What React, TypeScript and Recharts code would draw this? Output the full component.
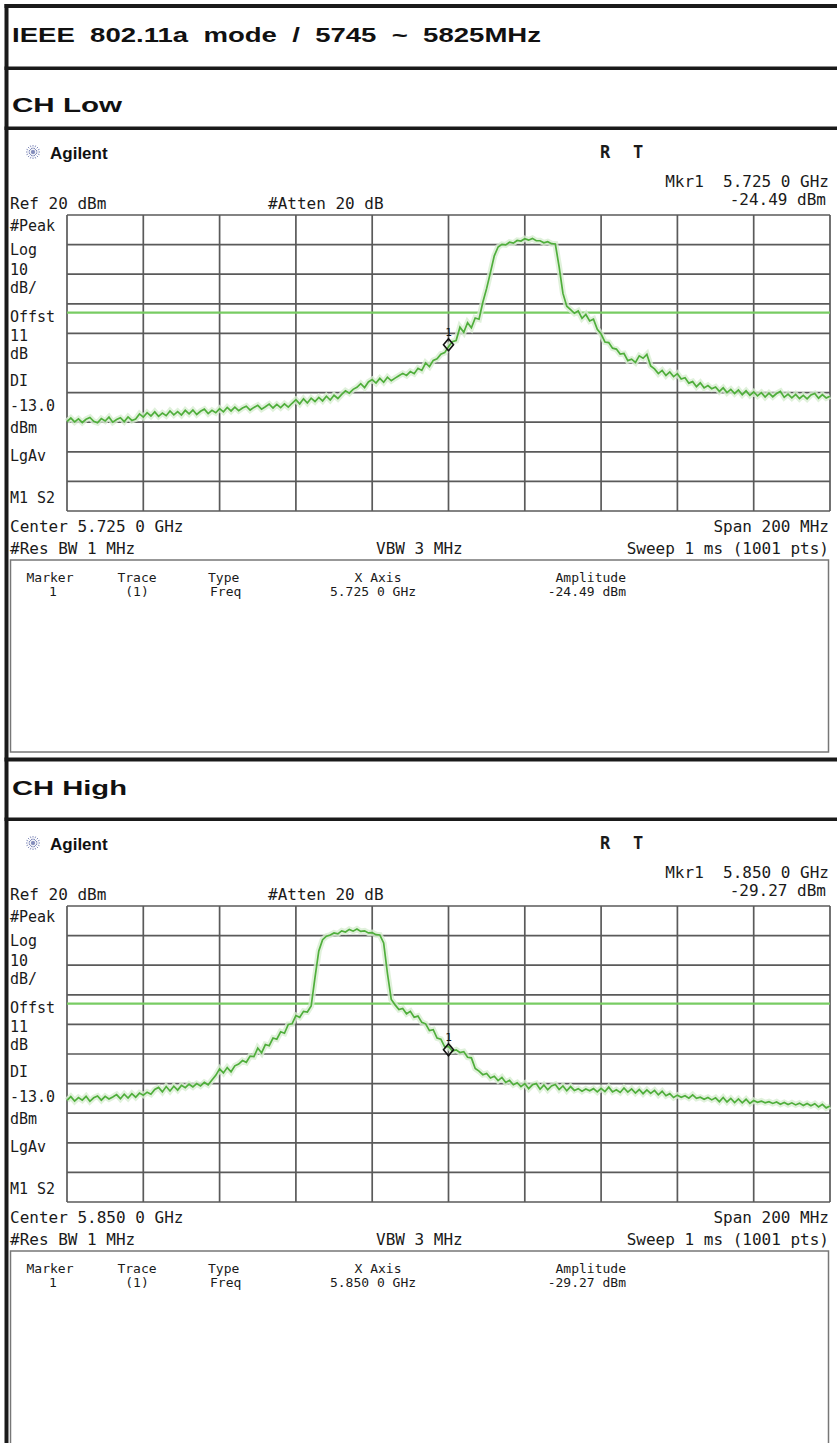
import React from 'react';
import {
  LineChart,
  Line,
  XAxis,
  YAxis,
  CartesianGrid,
  ReferenceLine,
  ReferenceDot,
} from 'recharts';

// analyzer settings
const SPAN_MHZ = 200;
const STEP_MHZ = 1;
const REF_LEVEL = 20;
const DB_PER_DIV = 10;
const DISPLAY_LINE_DBM = -13;
const Y_TICKS = [-80, -70, -60, -50, -40, -30, -20, -10, 0, 10, 20];

const PAGE_TITLE = 'IEEE  802.11a  mode  /  5745  ~  5825MHz';

// CH Low: 5.625 - 5.825 GHz, 1 MHz per point
const LOW_CENTER_MHZ = 5725;
const LOW_MARKER = { freq: 5725, amp: -24.49, freqText: '5.725 0 GHz', ampText: '-24.49 dBm' };
const LOW_TRACE = [
  -49.8, -48.6, -49.9, -48.9, -50.1, -49.0, -48.4, -49.7, -50.2, -48.8,
  -49.6, -48.3, -50.0, -49.1, -48.5, -49.8, -48.2, -49.4, -48.9, -47.2,
  -48.3, -46.8, -47.9, -46.5, -48.0, -46.9, -47.8, -46.2, -47.5, -46.4,
  -47.6, -46.0, -47.2, -45.9, -47.4, -46.3, -45.6, -47.1, -46.0, -46.8,
  -45.4, -46.5, -45.0, -46.2, -44.9, -46.1, -45.2, -44.6, -45.9, -45.0,
  -44.3, -45.6, -44.8, -43.9, -45.2, -44.0, -45.1, -43.8, -44.9, -43.6,
  -42.4, -43.8, -42.1, -43.5, -41.9, -43.0, -41.6, -42.8, -41.2, -42.5,
  -40.9, -42.0, -40.6, -39.4, -40.2, -38.9, -38.2, -37.0, -38.3, -36.4,
  -35.6, -36.8, -35.2, -36.5, -34.8, -36.0, -35.1, -34.3, -33.5, -34.2,
  -32.9, -33.6, -31.8, -32.5, -30.0, -31.2, -29.1, -28.6, -27.0, -26.5,
  -24.5, -22.8, -22.4, -17.9, -19.6, -16.4, -18.1, -14.8, -15.2, -9.5,
  -4.8, 0.6, 6.2, 9.2, 10.1, 9.9, 10.8, 10.5, 11.4, 11.2,
  12.0, 11.5, 12.1, 11.3, 11.3, 10.6, 11.0, 10.3, 10.2, 2.5,
  -6.5, -10.8, -12.0, -13.2, -12.4, -14.9, -13.6, -15.8, -15.2, -18.6,
  -20.2, -22.9, -23.1, -25.0, -25.3, -27.0, -26.8, -29.2, -28.7, -29.8,
  -27.6, -28.4, -27.1, -31.0, -32.0, -33.6, -32.5, -34.2, -33.0, -34.6,
  -33.6, -35.4, -35.0, -36.8, -36.3, -38.0, -36.7, -38.4, -37.6, -38.7,
  -38.1, -39.6, -38.4, -40.0, -38.9, -40.3, -39.1, -40.7, -39.4, -40.9,
  -39.8, -41.1, -40.0, -41.5, -40.2, -41.4, -40.3, -39.6, -41.6, -40.5,
  -41.8, -40.6, -42.0, -40.9, -42.1, -40.8, -40.3, -41.9, -40.7, -41.8,
  -41.2,
];

// CH High: 5.750 - 5.950 GHz
const HIGH_CENTER_MHZ = 5850;
const HIGH_MARKER = { freq: 5850, amp: -29.27, freqText: '5.850 0 GHz', ampText: '-29.27 dBm' };
const HIGH_TRACE = [
  -45.7, -44.4, -45.9, -44.7, -45.6, -44.3, -46.0, -44.8, -44.2, -45.6,
  -44.3, -45.2, -44.5, -43.7, -45.1, -43.6, -44.9, -43.4, -44.6, -43.2,
  -43.9, -42.9, -43.6, -42.0, -41.3, -42.8, -41.0, -42.5, -40.9, -42.2,
  -40.6, -41.4, -40.2, -41.1, -40.0, -40.8, -39.6, -40.4, -38.8, -37.2,
  -35.0, -36.4, -34.6, -36.0, -34.0, -33.4, -32.2, -32.8, -30.7, -30.9,
  -28.0, -29.6, -26.8, -27.2, -24.6, -25.0, -22.5, -23.0, -20.0, -19.8,
  -17.0, -17.6, -15.6, -15.8, -13.8, -4.2, 4.8, 8.6, 9.8, 10.2,
  10.9, 10.6, 11.6, 11.2, 12.1, 11.5, 12.2, 11.4, 11.6, 10.9,
  11.0, 10.3, 10.2, 7.5, -2.8, -11.6, -13.4, -15.0, -14.6, -16.4,
  -15.6, -17.6, -17.2, -19.3, -19.8, -22.1, -21.8, -24.6, -25.0, -27.6,
  -27.4, -29.0, -28.6, -29.5, -29.2, -31.1, -31.3, -34.9, -35.8, -37.0,
  -36.6, -38.1, -37.5, -39.0, -37.9, -39.6, -38.9, -40.4, -39.7, -41.0,
  -40.0, -41.7, -40.4, -40.0, -41.9, -40.5, -42.1, -40.8, -40.3, -42.0,
  -40.8, -42.4, -41.0, -42.3, -41.7, -42.6, -41.8, -42.4, -41.7, -42.8,
  -41.6, -42.7, -41.2, -42.8, -42.1, -43.0, -41.5, -42.9, -41.8, -43.2,
  -42.0, -43.4, -42.1, -43.3, -42.3, -43.8, -42.6, -44.1, -43.4, -44.7,
  -43.9, -44.6, -44.1, -44.9, -43.8, -45.0, -44.6, -45.3, -44.7, -45.5,
  -44.8, -46.1, -44.7, -46.2, -45.0, -46.4, -45.2, -46.5, -45.3, -46.7,
  -45.7, -46.3, -45.9, -46.5, -46.1, -46.7, -46.2, -47.0, -46.4, -47.1,
  -46.5, -47.2, -46.6, -47.4, -46.7, -47.5, -46.8, -47.9, -47.0, -48.2,
  -47.6,
];

const LEFT_LABELS = ['#Peak', 'Log', '10', 'dB/', 'Offst', '11', 'dB', 'DI', '-13.0', 'dBm', 'LgAv'];
const LEFT_LABEL_Y = [16, 40, 60, 78, 107, 126, 144, 171, 196, 218, 246];
const TABLE_HEAD = ['Marker', 'Trace', 'Type', 'X Axis', 'Amplitude'];

const GRID_LEFT = 67;
const GRID_W = 763;
const GRID_H = 296;
const MONO = '"DejaVu Sans Mono", "Liberation Mono", monospace';
const SANS = '"Liberation Sans", Arial, sans-serif';
const TRACE_GREEN = '#4fae3b';
const HALO_GREEN = '#d8eed2';
const LINE_GREEN = '#78cc63';

function MarkerDiamond(props: any) {
  const { cx, cy } = props;
  return (
    <g>
      <path
        d={`M${cx - 5},${cy - 2} L${cx},${cy - 8} L${cx + 5},${cy - 2} L${cx},${cy + 4} Z`}
        fill="none"
        stroke="#111"
        strokeWidth={1.6}
      />
      <text x={cx} y={cy - 11} textAnchor="middle" fontSize={11} fontFamily={MONO} fill="#111">
        1
      </text>
    </g>
  );
}

// 10 x 10 division graticule: one line per tick, spread over the plot area
const divisionLines = (ticks: number[], from: number, size: number) =>
  ticks.map((_, k) => from + (size * k) / (ticks.length - 1));

function SpectrumPlot({ trace, centerMhz, marker }: any) {
  const start = centerMhz - SPAN_MHZ / 2;
  const data = trace.map((amp: number, i: number) => ({ freq: start + i * STEP_MHZ, amp }));
  const xTicks = Array.from({ length: 11 }, (_, k) => start + (k * SPAN_MHZ) / 10);

  return (
    <LineChart
      width={GRID_W + 4}
      height={GRID_H + 4}
      data={data}
      margin={{ top: 2, right: 2, bottom: 2, left: 2 }}
    >
      <XAxis
        type="number"
        dataKey="freq"
        domain={[start, start + SPAN_MHZ]}
        ticks={xTicks}
        interval={0}
        axisLine={false}
        tickLine={false}
        tick={false}
        height={0}
      />
      <YAxis
        type="number"
        domain={[REF_LEVEL - 10 * DB_PER_DIV, REF_LEVEL]}
        ticks={Y_TICKS}
        interval={0}
        axisLine={false}
        tickLine={false}
        tick={false}
        width={0}
      />
      <CartesianGrid
        stroke="#5a5a5a"
        strokeWidth={1.7}
        verticalCoordinatesGenerator={({ offset }: any) => divisionLines(xTicks, offset.left, offset.width)}
        horizontalCoordinatesGenerator={({ offset }: any) => divisionLines(Y_TICKS, offset.top, offset.height)}
      />
      <ReferenceLine y={DISPLAY_LINE_DBM} stroke={LINE_GREEN} strokeWidth={2.2} />
      <Line
        dataKey="amp"
        stroke={HALO_GREEN}
        strokeWidth={6}
        strokeOpacity={0.8}
        dot={false}
        activeDot={false}
        isAnimationActive={false}
      />
      <Line
        dataKey="amp"
        stroke={TRACE_GREEN}
        strokeWidth={1.7}
        dot={false}
        isAnimationActive={false}
      />
      <ReferenceDot x={marker.freq} y={marker.amp} shape={MarkerDiamond} />
    </LineChart>
  );
}

function AgilentLogo({ x, y }: { x: number; y: number }) {
  const rays = [0, 22.5, 45, 67.5, 90, 112.5, 135, 157.5];
  return (
    <g>
      {rays.map((a) => {
        const r = (a * Math.PI) / 180;
        return (
          <line
            key={a}
            x1={x - Math.cos(r) * 7}
            y1={y - Math.sin(r) * 7}
            x2={x + Math.cos(r) * 7}
            y2={y + Math.sin(r) * 7}
            stroke="#7d86b8"
            strokeWidth={1}
            strokeDasharray="1.5 1"
          />
        );
      })}
    </g>
  );
}

function ScreenText({ T, marker, centerText }: any) {
  const t = (y: number) => T + y;
  return (
    <g fontFamily={MONO} fontSize={16} fill="#1a1a1a">
      <AgilentLogo x={33} y={t(-63)} />
      <text x={50} y={t(-56)} fontFamily={SANS} fontWeight="bold" fontSize={17} fill="#111">
        Agilent
      </text>
      <text x={600} y={t(-57)} fontWeight="bold" fontSize={17}>R</text>
      <text x={633} y={t(-57)} fontWeight="bold" fontSize={17}>T</text>
      <text x={829} y={t(-28)} textAnchor="end" style={{ whiteSpace: 'pre' }}>
        {`Mkr1  ${marker.freqText}`}
      </text>
      <text x={826} y={t(-10)} textAnchor="end">{marker.ampText}</text>
      <text x={10} y={t(-6)}>Ref 20 dBm</text>
      <text x={268} y={t(-6)}>#Atten 20 dB</text>
      <g fontSize={15}>
        {LEFT_LABELS.map((s, i) => (
          <text key={s + i} x={10} y={t(LEFT_LABEL_Y[i])}>{s}</text>
        ))}
        <text x={10} y={t(288)} style={{ whiteSpace: 'pre' }}>M1 S2</text>
      </g>
      <text x={10} y={t(317)}>{centerText}</text>
      <text x={829} y={t(317)} textAnchor="end">Span 200 MHz</text>
      <text x={10} y={t(339)}>#Res BW 1 MHz</text>
      <text x={376} y={t(339)}>VBW 3 MHz</text>
      <text x={829} y={t(339)} textAnchor="end">Sweep 1 ms (1001 pts)</text>
      <g fontSize={13}>
        <text x={50} y={t(367)} textAnchor="middle">{TABLE_HEAD[0]}</text>
        <text x={137} y={t(367)} textAnchor="middle">{TABLE_HEAD[1]}</text>
        <text x={208} y={t(367)}>{TABLE_HEAD[2]}</text>
        <text x={378} y={t(367)} textAnchor="middle">{TABLE_HEAD[3]}</text>
        <text x={626} y={t(367)} textAnchor="end">{TABLE_HEAD[4]}</text>
        <text x={53} y={t(381)} textAnchor="middle">1</text>
        <text x={137} y={t(381)} textAnchor="middle">(1)</text>
        <text x={210} y={t(381)}>Freq</text>
        <text x={373} y={t(381)} textAnchor="middle">{marker.freqText}</text>
        <text x={626} y={t(381)} textAnchor="end">{marker.ampText}</text>
      </g>
    </g>
  );
}

const BLOCKS = [
  { T: 215, heading: 'CH Low', headingY: 111.5, headingW: 110, center: LOW_CENTER_MHZ, trace: LOW_TRACE, marker: LOW_MARKER, centerText: 'Center 5.725 0 GHz', tableH: 192 },
  { T: 906, heading: 'CH High', headingY: 795, headingW: 115, center: HIGH_CENTER_MHZ, trace: HIGH_TRACE, marker: HIGH_MARKER, centerText: 'Center 5.850 0 GHz', tableH: 600 },
];

export default function App() {
  return (
    <div style={{ position: 'absolute', left: 0, top: 0, width: 837, height: 1443, background: '#fff', overflow: 'hidden' }}>
      <svg width={837} height={1443} style={{ position: 'absolute', left: 0, top: 0 }}>
        {/* page frame */}
        <rect x={4.5} y={4} width={840} height={4} fill="#1a1a1a" />
        <rect x={4.5} y={4} width={4} height={1443} fill="#1a1a1a" />
        <rect x={4.5} y={66.5} width={840} height={3.5} fill="#1a1a1a" />
        <rect x={4.5} y={126.5} width={840} height={3.5} fill="#1a1a1a" />
        <rect x={4.5} y={757.5} width={840} height={4} fill="#1a1a1a" />
        <rect x={4.5} y={817.5} width={840} height={3.5} fill="#1a1a1a" />
        <text x={12} y={41.7} fontFamily={SANS} fontWeight="bold" fontSize={21} textLength={529} lengthAdjust="spacingAndGlyphs" style={{ whiteSpace: 'pre' }} fill="#111">
          {PAGE_TITLE}
        </text>
        {BLOCKS.map((b) => (
          <g key={b.heading}>
            <text x={12} y={b.headingY} fontFamily={SANS} fontWeight="bold" fontSize={21} textLength={b.headingW} lengthAdjust="spacingAndGlyphs" fill="#111">
              {b.heading}
            </text>
            <rect x={10.5} y={b.T + 345} width={818} height={b.tableH} fill="none" stroke="#777" strokeWidth={1.5} />
            <ScreenText T={b.T} marker={b.marker} centerText={b.centerText} />
          </g>
        ))}
      </svg>
      {BLOCKS.map((b) => (
        <div key={b.heading} style={{ position: 'absolute', left: GRID_LEFT - 2, top: b.T - 2 }}>
          <SpectrumPlot trace={b.trace} centerMhz={b.center} marker={b.marker} />
        </div>
      ))}
    </div>
  );
}
